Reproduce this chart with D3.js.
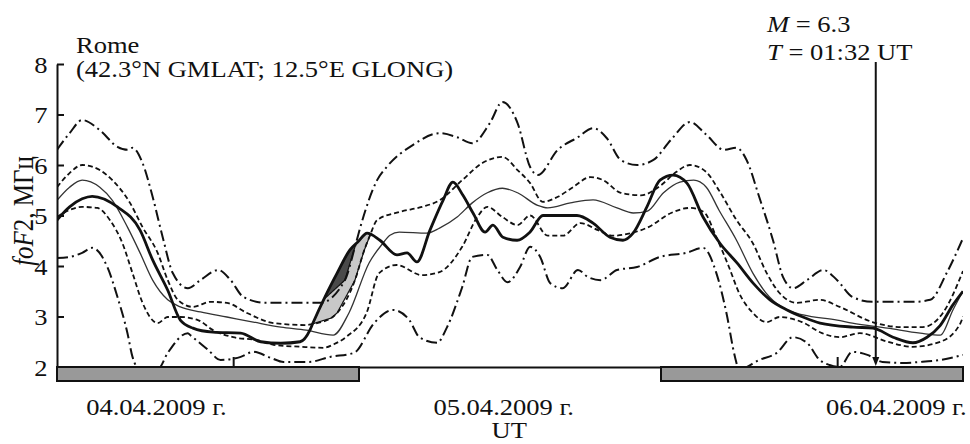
<!DOCTYPE html>
<html>
<head>
<meta charset="utf-8">
<script src="https://d3js.org/d3.v7.min.js"></script>
<style>
  body { margin: 0; background: #fff; }
  text { font-family: "Liberation Serif", "Times New Roman", serif; fill: #111; }
</style>
</head>
<body>
<svg width="970" height="444"></svg>
<script>
// hours counted from 04.04.2009 00 UT
const hourDomain = [17, 53];
const yTicks = [2, 3, 4, 5, 6, 7, 8];
const nightBands = [[17, 29], [41, 53]];
const midnights = [24, 48];
const dateLabels = ['04.04.2009 г.', '05.04.2009 г.', '06.04.2009 г.'];
const dateLabelHours = [20.95, 34.75, 50.35];
const quakeHour = 49 + 32 / 60;

// upper dash-dot bound
const upperOuter = [[17.0,6.3],[17.5,6.63],[18.0,6.89],[18.7,6.69],[19.4,6.36],[19.8,6.3],[20.0,6.34],[20.4,6.04],
  [20.8,5.37],[21.2,4.57],[21.6,3.86],[22.2,3.56],[22.7,3.72],[23.4,3.92],[23.9,3.72],[24.4,3.39],[25.3,3.27],
  [26.3,3.27],[27.45,3.27],[28.44,3.72],[28.84,4.38],[29.1,4.85],[29.72,5.7],[30.1,5.96],[31.15,6.4],[32.2,6.63],
  [32.9,6.55],[33.5,6.43],[34.2,6.83],[34.7,7.25],[35.3,6.83],[35.8,5.96],[36.1,5.8],[36.9,6.3],[37.7,6.55],
  [38.3,6.73],[38.85,6.53],[39.4,6.1],[40.05,6.0],[40.7,6.1],[41.4,6.5],[42.15,6.85],[42.8,6.6],[43.5,6.3],
  [44.0,6.34],[44.4,6.1],[44.9,5.37],[45.45,4.51],[45.85,3.78],[46.25,3.56],[46.8,3.72],[47.45,3.92],[48.0,3.72],
  [48.6,3.39],[49.4,3.29],[50.4,3.29],[51.0,3.29],[51.7,3.33],[52.35,3.86],[53.0,4.55]];
// upper dashed bound
const upperInner = [[17.0,5.56],[17.5,5.84],[18.0,6.0],[18.7,5.9],[19.2,5.7],[19.9,5.25],[20.4,4.77],[21.0,4.26],
  [21.4,3.72],[21.8,3.33],[22.4,3.19],[23.1,3.29],[23.75,3.27],[24.55,3.07],[25.6,2.87],[26.9,2.83],[27.13,2.85],
  [27.9,2.97],[28.13,3.07],[28.84,3.72],[29.2,4.3],[29.44,4.61],[29.72,4.91],[30.6,5.07],[31.5,5.17],[32.2,5.3],
  [33.1,5.7],[33.9,6.04],[34.7,6.16],[35.3,5.9],[35.8,5.64],[36.3,5.27],[36.9,5.37],[37.5,5.56],[38.2,5.76],
  [38.7,5.7],[39.4,5.45],[40.2,5.4],[41.0,5.6],[41.6,5.86],[42.15,6.0],[42.8,5.86],[43.3,5.5],[44.0,4.91],
  [44.65,4.45],[45.2,3.86],[45.7,3.47],[46.4,3.27],[47.3,3.33],[48.1,3.19],[49.4,2.89],[50.6,2.79],[51.4,2.79],
  [52.2,3.07],[53.0,3.9]];
// median
const median = [[17.0,5.3],[17.5,5.56],[18.0,5.7],[18.7,5.56],[19.2,5.3],[19.8,4.77],[20.3,4.26],[20.8,3.72],
  [21.4,3.33],[21.9,3.19],[22.7,3.09],[23.75,2.99],[24.8,2.89],[25.9,2.79],[26.9,2.73],[27.97,2.63],[28.6,3.07],
  [29.4,4.06],[29.95,4.45],[30.23,4.61],[30.6,4.67],[31.7,4.65],[32.2,4.75],[32.9,4.97],[33.5,5.25],[34.1,5.45],
  [34.7,5.54],[35.3,5.45],[36.1,5.2],[36.5,5.15],[37.4,5.25],[38.3,5.31],[39.25,5.15],[39.9,5.05],[40.44,5.08],
  [41.1,5.45],[41.75,5.66],[42.3,5.7],[42.8,5.56],[43.3,5.11],[44.0,4.51],[44.65,3.86],[45.3,3.39],[46.0,3.13],
  [46.65,3.03],[48.0,2.93],[48.6,2.87],[50.0,2.77],[51.3,2.67],[52.1,2.63],[52.6,3.13],[53.0,3.5]];
// observed foF2
const observed = [[17.0,4.91],[17.5,5.17],[18.0,5.33],[18.4,5.38],[19.4,5.17],[20.3,4.71],[20.8,4.12],[21.4,3.52],
  [21.9,2.93],[22.4,2.77],[23.2,2.69],[24.3,2.67],[25.1,2.5],[25.9,2.47],[26.66,2.5],[27.05,2.73],[27.17,2.87],
  [27.65,3.39],[28.13,3.86],[28.64,4.32],[28.96,4.48],[29.32,4.65],[29.83,4.51],[30.51,4.22],[30.91,4.26],
  [31.3,4.08],[31.82,4.71],[32.34,5.3],[32.73,5.66],[33.13,5.4],[33.53,5.05],[34.01,4.67],[34.32,4.81],
  [34.72,4.57],[35.28,4.51],[35.79,4.67],[36.31,5.0],[37.11,5.0],[37.66,5.0],[38.3,4.85],[38.97,4.57],
  [39.49,4.51],[39.89,4.65],[40.44,5.17],[40.96,5.7],[41.48,5.8],[42.03,5.64],[42.67,4.97],[43.34,4.45],
  [44.02,4.06],[44.66,3.66],[45.33,3.33],[46.01,3.13],[46.64,2.99],[47.32,2.87],[48.63,2.79],[49.42,2.77],
  [50.22,2.59],[51.01,2.48],[51.57,2.59],[52.09,2.82],[52.6,3.23],[53.0,3.5]];
// lower dashed bound
const lowerInner = [[17.0,4.97],[17.5,5.11],[18.0,5.17],[18.6,5.15],[19.1,4.91],[19.6,4.45],[20.0,3.86],[20.4,3.27],
  [21.0,2.87],[21.4,2.99],[21.9,2.99],[22.6,2.93],[23.2,2.73],[24.0,2.59],[24.95,2.53],[25.6,2.44],[26.7,2.4],
  [27.6,2.38],[28.0,2.45],[28.5,2.6],[29.3,3.07],[29.8,3.86],[30.5,4.02],[31.5,3.82],[32.2,3.88],[33.1,4.38],
  [33.7,4.97],[34.1,5.17],[34.7,4.97],[35.3,4.81],[35.8,5.0],[36.5,4.6],[37.1,4.6],[37.8,4.85],[38.5,4.71],
  [39.1,4.6],[39.8,4.65],[40.5,4.77],[41.4,5.05],[42.15,5.15],[42.7,5.07],[43.2,4.57],[43.7,3.98],[44.1,3.47],
  [44.65,3.07],[45.2,2.89],[45.7,2.99],[46.6,2.89],[47.4,2.67],[48.1,2.59],[48.9,2.67],[50.0,2.5],[51.0,2.4],
  [52.1,2.5],[52.9,2.87],[53.0,3.0]];
// lower dash-dot bound
const lowerOuter = [[17.0,4.16],[17.5,4.18],[18.0,4.26],[18.4,4.36],[19.0,3.98],[19.4,3.39],[19.8,2.67],[20.0,2.2],
  [20.3,1.95],[21.0,1.95],[21.4,2.28],[22.2,2.67],[22.3,2.63],[23.0,2.34],[23.5,2.14],[24.3,2.2],[24.8,2.3],
  [25.5,2.18],[26.0,2.1],[27.0,2.1],[27.85,2.2],[28.8,2.28],[29.6,2.87],[30.35,3.13],[31.0,2.93],[31.4,2.59],
  [32.1,2.48],[32.5,2.79],[33.1,3.58],[33.5,4.18],[34.1,4.22],[34.5,3.92],[34.9,3.68],[35.4,3.98],[35.8,4.38],
  [36.2,4.18],[36.6,3.66],[37.1,3.56],[37.7,3.92],[38.1,3.78],[38.6,3.72],[39.25,3.92],[40.05,3.98],[40.96,4.18],
  [42.0,4.26],[42.67,4.36],[43.2,3.86],[43.6,3.07],[43.94,2.2],[44.1,1.95],[44.9,2.14],[45.6,2.28],[46.24,2.59],
  [46.8,2.48],[47.3,2.14],[47.7,2.04],[48.1,2.0],[48.6,2.3],[49.2,2.24],[49.8,2.1],[50.6,2.08],[51.3,2.1],
  [52.1,2.14],[53.0,2.24]];

const svg = d3.select('svg');
const x = d3.scaleLinear().domain(hourDomain).range([57, 963]);
const y = d3.scaleLinear().domain([2, 8]).range([367, 64]);
const SX = 1.18;   // glyphs in the source are a little wide

svg.append('clipPath').attr('id', 'plot')
  .append('rect').attr('x', x(17)).attr('y', y(8)).attr('width', x(53) - x(17)).attr('height', y(2) - y(8));

// shaded excess of observed over the upper bounds
function interp(s, h) {
  for (let i = 1; i < s.length; i++) {
    if (h <= s[i][0]) {
      const t = (h - s[i-1][0]) / (s[i][0] - s[i-1][0]);
      return s[i-1][1] + t * (s[i][1] - s[i-1][1]);
    }
  }
  return s[s.length - 1][1];
}
const grid = d3.range(26.8, 29.8, 0.02);
function excess(bound) {
  return grid.map(h => ({h: h, lo: interp(bound, h), hi: interp(observed, h)}));
}
const area = d3.area().defined(d => d.hi > d.lo)
  .x(d => x(d.h)).y0(d => y(d.lo)).y1(d => y(d.hi));
const plot = svg.append('g').attr('clip-path', 'url(#plot)');
plot.append('path').attr('d', area(excess(upperInner)))
  .attr('fill', '#c8c8c8').attr('stroke', '#111').attr('stroke-width', 1.2);
plot.append('path').attr('d', area(excess(upperOuter)))
  .attr('fill', '#4a4a4a').attr('stroke', '#111').attr('stroke-width', 1.2);

const line = d3.line().x(d => x(d[0])).y(d => y(d[1])).curve(d3.curveMonotoneX);
const series = [
  {data: upperOuter, w: 2, dash: '11,4,2,4', c: '#111'},
  {data: lowerOuter, w: 2, dash: '11,4,2,4', c: '#111'},
  {data: upperInner, w: 1.8, dash: '5,3', c: '#111'},
  {data: lowerInner, w: 1.8, dash: '5,3', c: '#111'},
  {data: median, w: 1.3, dash: null, c: '#333'},
  {data: observed, w: 2.8, dash: null, c: '#111'}
];
plot.selectAll('path.s').data(series).enter().append('path')
  .attr('class', 's')
  .attr('d', d => line(d.data))
  .attr('fill', 'none')
  .attr('stroke', d => d.c)
  .attr('stroke-width', d => d.w)
  .attr('stroke-dasharray', d => d.dash)
  .attr('stroke-linejoin', 'round');

// axes
const yAxis = svg.append('g').attr('transform', `translate(${x(17)},0)`)
  .call(d3.axisLeft(y).tickValues(yTicks).tickSizeInner(-7).tickSizeOuter(0).tickPadding(8).tickFormat(d3.format('d')));
yAxis.selectAll('line, path').attr('stroke', '#111').attr('stroke-width', 2);
yAxis.selectAll('text').attr('font-size', 22.5).attr('dy', '0.36em')
  .attr('transform', `scale(${SX},1)`).attr('fill', '#111')
  .style('font-family', '"Liberation Serif", serif');

const xAxis = svg.append('g').attr('transform', `translate(0,${y(2)})`)
  .call(d3.axisBottom(x).tickValues(midnights).tickSizeInner(-10).tickSizeOuter(0).tickFormat(''));
xAxis.selectAll('line, path').attr('stroke', '#111').attr('stroke-width', 2);

svg.selectAll('rect.night').data(nightBands).enter().append('rect')
  .attr('class', 'night')
  .attr('x', d => x(d[0])).attr('y', y(2))
  .attr('width', d => x(d[1]) - x(d[0])).attr('height', 14)
  .attr('fill', '#999').attr('stroke', '#111').attr('stroke-width', 2);

// text
function label(px, py, anchor, size) {
  return svg.append('text')
    .attr('transform', `translate(${px},${py}) scale(${SX},1)`)
    .attr('text-anchor', anchor).attr('font-size', size || 22.5);
}
dateLabels.forEach((t, i) => label(x(dateLabelHours[i]), 415, 'middle').text(t));
label(x(34.97), 438, 'middle').text('UT');
label(76, 53, 'start').text('Rome');
label(76, 77, 'start').text('(42.3°N GMLAT; 12.5°E GLONG)');

const m = label(767, 32, 'start');
m.append('tspan').attr('font-style', 'italic').text('M');
m.append('tspan').text(' = 6.3');
const t = label(767, 60, 'start');
t.append('tspan').attr('font-style', 'italic').text('T');
t.append('tspan').text(' = 01:32 UT');

const yl = svg.append('text')
  .attr('transform', `translate(33,211) rotate(-90) scale(1,${SX})`)
  .attr('text-anchor', 'middle').attr('font-size', 25);
yl.append('tspan').attr('font-style', 'italic').text('foF');
yl.append('tspan').text('2, МГц');

// earthquake arrow
const qx = x(quakeHour);
svg.append('line').attr('x1', qx).attr('x2', qx).attr('y1', 62).attr('y2', y(2) - 6)
  .attr('stroke', '#111').attr('stroke-width', 2);
svg.append('path')
  .attr('d', `M${qx - 3.5},${y(2) - 10}L${qx + 3.5},${y(2) - 10}L${qx},${y(2) - 1}Z`)
  .attr('fill', '#111');
</script>
</body>
</html>
